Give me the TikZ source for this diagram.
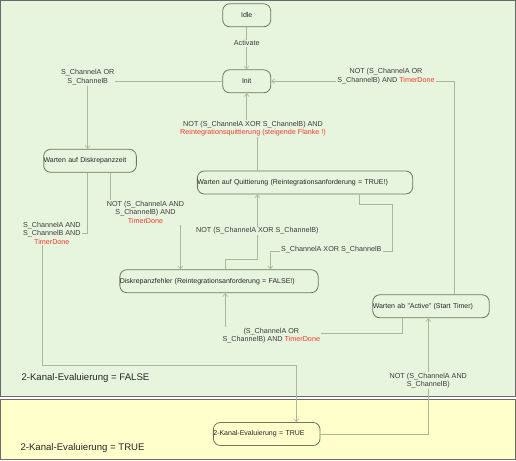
\documentclass[tikz,border=0pt]{standalone}
\usepackage{fontspec}
\setmainfont{Liberation Sans}
\usepackage{tikz}
\usetikzlibrary{arrows.meta}

\definecolor{falsebg}{HTML}{E8F5DE}
\definecolor{truebg}{HTML}{FFFFCC}
\definecolor{frameline}{HTML}{6A6A6A}
\definecolor{stateline}{HTML}{6B775F}
\definecolor{edgeline}{HTML}{A9B89C}
\definecolor{labeltext}{HTML}{3C3C3C}
\definecolor{alarm}{HTML}{F23C32}

\tikzset{
  state/.style={draw=stateline, line width=0.8pt, rounded corners=7pt,
    minimum height=23pt, inner sep=0pt, font=\fontsize{7}{8}\selectfont,
    text=black!85},
  leftstate/.style={state, align=left, text width=#1},
  trans/.style={draw=edgeline, line width=0.6pt, ->},
  guard/.style={fill=falsebg, inner sep=1pt, align=center,
    font=\fontsize{7.2}{8.6}\selectfont, text=labeltext},
  region/.style={anchor=west, font=\fontsize{9.6}{11}\selectfont, text=black!85}
}

\begin{document}
\begin{tikzpicture}[x=1pt, y=-1pt, >={Straight Barb[length=3pt,width=5pt]}]

\useasboundingbox (0,0) rectangle (516,460);
\draw[frameline, fill=falsebg, line width=1pt] (0.5,0.5) rectangle (515.5,396.5);
\draw[frameline, fill=truebg, line width=1pt] (0.5,399.5) rectangle (515.5,459.5);
\node[region] (falsetag) at (18,378.3) {2-Kanal-Evaluierung = FALSE};
\node[region] (truetag) at (17,447.7) {2-Kanal-Evaluierung = TRUE};

\node[state, minimum width=48pt] (idle) at (246.7,15.3) {Idle};
\node[state, minimum width=48pt] (init) at (246.7,81.3) {Init};
\node[leftstate=92.7pt] (diskzeit) at (90,160.8) {Warten auf Diskrepanzzeit};
\node[leftstate=215.3pt] (quitt) at (305,182.5) {Warten auf Quittierung (Reintegrationsanforderung = TRUE!)};
\node[leftstate=198.3pt] (fehler) at (219,281.2) {Diskrepanzfehler (Reintegrationsanforderung = FALSE!)};
\node[leftstate=116.5pt] (active) at (431,306.3) {Warten ab "Active" (Start Timer)};
\node[leftstate=106.7pt] (kanal) at (266.7,434) {2-Kanal-Evaluierung = TRUE};

\draw[trans] (idle) -- node[guard, pos=0.38]{Activate} (init);
\draw[trans] (init.west) -| node[guard, yshift=4pt]{S\_ChannelA OR\\S\_ChannelB} ([xshift=-2.3pt]diskzeit.north);
\draw[trans] ([xshift=-47.7pt]quitt.north) -- ++(0,-42) -| node[guard, pos=0.2]{NOT (S\_ChannelA XOR S\_ChannelB) AND\\\textcolor{alarm}{Reintegrationsquittierung (steigende Flanke !)}} (init.south);
\draw[trans] ([xshift=23pt]active.north) |- node[guard, pos=0.686, yshift=5pt]{NOT (S\_ChannelA OR\\S\_ChannelB) AND \textcolor{alarm}{TimerDone}} (init.east);
\draw[trans] ([xshift=-2.3pt]diskzeit.south) -- ++(0,60.4) -- node[guard, pos=0.79]{S\_ChannelA AND\\S\_ChannelB AND\\\textcolor{alarm}{TimerDone}} ++(-45.4,0) -- ++(0,132.3) -| ([xshift=29.6pt]kanal.north);
\draw[trans] ([xshift=20.7pt]diskzeit.south) -- ++(0,39.7) -| node[guard, pos=0.25]{NOT (S\_ChannelA AND\\S\_ChannelB) AND\\\textcolor{alarm}{TimerDone}} ([xshift=-38.7pt]fehler.north);
\draw[trans] ([xshift=6.3pt]fehler.north) -- ++(0,-9.7) -| node[guard, pos=0.72]{NOT (S\_ChannelA XOR S\_ChannelB)} ([xshift=-47.7pt]quitt.south);
\draw[trans] ([xshift=54.3pt]quitt.south) -- ++(0,10.3) -- ++(33,0) -- ++(0,47) -| node[guard, pos=0.25, yshift=2pt]{S\_ChannelA XOR S\_ChannelB} ([xshift=51.3pt]fehler.north);
\draw[trans] ([xshift=-28.7pt]active.south) -- ++(0,15.3) -| node[guard, pos=0.37, yshift=-2pt]{(S\_ChannelA OR\\S\_ChannelB) AND \textcolor{alarm}{TimerDone}} ([xshift=6.3pt]fehler.south);
\draw[trans] (kanal.east) -| node[guard, pos=0.73]{NOT (S\_ChannelA AND\\S\_ChannelB)} ([xshift=-2.7pt]active.south);

\end{tikzpicture}
\end{document}
